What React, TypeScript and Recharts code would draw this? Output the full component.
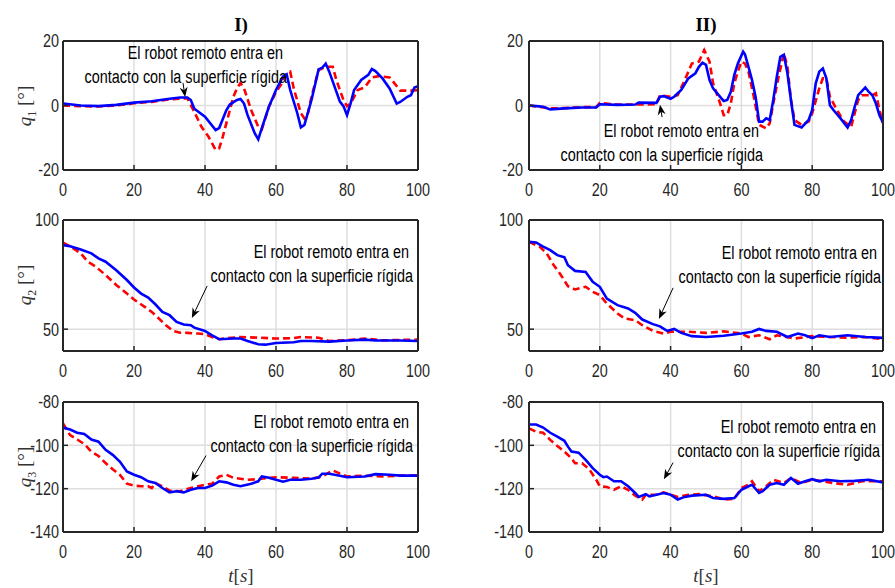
import React from 'react';
import { LineChart, Line, XAxis, YAxis, CartesianGrid, ReferenceLine } from 'recharts';

type Pt = [number, number];

const tTicks = [0, 20, 40, 60, 80, 100];
const q1Ticks = [-20, 0, 20];
const q2Ticks = [50, 100];
const q3Ticks = [-140, -120, -100, -80];

const noteLines = ['El robot remoto entra en ', 'contacto con la superficie rígida'];
const titles = ['I)', 'II)'];

// q1, experiment I
const q1IBlue: Pt[] = [[0, 0.6], [5, 0], [10, -0.2], [15, 0.2], [20, 0.9], [25, 1.3], [30, 2.1], [33, 2.5], [35, 2.5], [36, 1.7], [37, -1], [40, -3.5], [43, -7.6], [44, -7], [46, -1.5], [47, 0.3], [49, 1.7], [50, 2], [51, 0.6], [52, -3], [54, -8.6], [55, -10.5], [56, -7], [58, -0.4], [60, 4.8], [62, 9], [63, 9.7], [64, 4.8], [66, -2.4], [67, -6.8], [68, -6], [70, 1.7], [72, 11.2], [73, 11.7], [74, 13], [75, 10.5], [76, 7.4], [78, 1.2], [79, -0.2], [80, -3], [81, 0.6], [82, 4.8], [84, 7.9], [86, 9.5], [87, 11.3], [88, 10.7], [90, 8.4], [92, 5.3], [94, 0.6], [95, 1.1], [97, 2.7], [98, 3.2], [99, 5.6], [100, 6]];
const q1IRed: Pt[] = [[0, 0], [5, -0.2], [10, -0.3], [15, 0], [20, 0.7], [25, 1.1], [30, 1.9], [35, 2.3], [37, -2], [39, -6.6], [41, -9.7], [43, -13.8], [44, -13.3], [45, -9.7], [47, -1.4], [48, 2.7], [49, 5.3], [50, 7], [51, 5.3], [53, -1.4], [55, -6.6], [56, -7.4], [58, -0.4], [60, 4.2], [62, 7.4], [63, 10], [64, 10.5], [65, 5.3], [67, -2.4], [68, -4], [69, -2.4], [70, 2.7], [72, 11], [74, 12], [76, 12], [77, 7.9], [79, 1.7], [80, -0.2], [81, 0.6], [83, 4.8], [85, 5.6], [87, 8.7], [89, 9.1], [92, 8.7], [93, 7.4], [95, 4.6], [98, 4.6], [100, 4.8]];

// q1, experiment II
const q1IIBlue: Pt[] = [[0, 0], [2, -0.2], [4, -0.4], [6, -1.2], [10, -0.9], [15, -0.6], [19, -0.6], [20, 0.4], [25, 0.2], [30, 0.3], [31, 0.9], [36, 0.8], [37, 2.7], [38, 2.9], [40, 2.1], [41, 2.7], [43, 4.8], [45, 8.4], [47, 10], [48, 12], [49, 13.3], [50, 12.6], [51, 7.9], [52, 5.3], [54, 2.7], [55, 1.4], [56, 1.7], [57, 4.2], [58, 9.5], [59, 13], [60.5, 16.7], [61, 15.9], [62, 12], [63, 7.9], [64, 2.7], [65, -5], [66, -5], [67, -4], [68, -4.5], [69, 1.7], [70, 8.9], [71, 15.1], [72, 15.7], [73, 10], [74, 1.7], [75, -6], [77, -6.8], [79, -4.5], [80, -1.4], [81, 6.9], [82, 10.5], [83, 11.5], [84, 8.4], [85, 0.1], [86, -1.4], [88, -4], [90, -6.8], [91, -4.5], [92, -0.4], [93, 3.2], [95, 5.6], [96, 4.2], [97, 3.2], [98, 0.6], [99, -3], [100, -5.3]];
const q1IIRed: Pt[] = [[0, 0], [6, -0.9], [10, -0.8], [15, -0.5], [19, -0.5], [20, 0.8], [25, 0.3], [30, 0.3], [36, 0.4], [37, 3.2], [40, 2.7], [42, 3.2], [44, 7.9], [46, 13], [48, 13.6], [49.5, 17.2], [51, 13.6], [52, 6.9], [54, 0.6], [55, -3], [56, -3], [57, 0.6], [58, 6.9], [59, 10.5], [60, 13.6], [61, 13], [62, 10.5], [63.5, 2.7], [65, -6], [67, -7.1], [68, -5.5], [69, 0.6], [70.5, 8.9], [72, 16.2], [73, 12], [74, 1.7], [75, -4.5], [77, -6], [79, -5], [80, -2.4], [82, 5.3], [83, 8.4], [84, 8.4], [85, 2.7], [87, -1.4], [89, -5], [91, -6.6], [92, -2.4], [93, 1.7], [94, 3.2], [97, 3.2], [98, 3.8], [99, -1.4], [100, -5.5]];

// q2
const q2IBlue: Pt[] = [[0, 88.5], [2, 88], [5, 86.5], [8, 84.7], [10, 82.4], [12, 80.9], [15, 77], [18, 72.5], [20, 69.1], [22, 66.3], [24, 64.5], [26, 61.4], [28, 57.9], [30, 56.4], [32, 53.3], [34, 52.1], [36, 51.8], [37, 50.7], [40, 49.2], [42, 47.2], [44, 45.4], [48, 45.7], [50, 45.7], [52, 44.6], [55, 43.1], [57, 42.9], [60, 43.7], [65, 44], [67, 44.6], [70, 44.6], [75, 44.3], [80, 44.8], [85, 45.2], [88, 44.8], [95, 44.8], [100, 44.6]];
const q2IRed: Pt[] = [[0, 89.6], [2, 88], [5, 84.7], [7, 80.9], [9, 78.9], [12, 74.8], [15, 70.2], [18, 66.3], [20, 63.6], [23, 60.2], [25, 57.9], [27, 54.9], [29, 51.8], [31, 49.2], [33, 48.4], [35, 48.3], [38, 48], [40, 47.7], [42, 46.4], [44, 45.4], [46, 45.9], [50, 46.4], [55, 46.1], [60, 45.7], [65, 45.9], [67, 46.4], [72, 46.1], [75, 44.6], [80, 44.9], [85, 45.7], [90, 44.9], [100, 45.2]];
const q2IIBlue: Pt[] = [[0, 90], [2, 89.7], [4, 87.8], [6, 86.2], [8, 83.9], [10, 82.9], [11, 79.3], [13, 76.7], [16, 76.2], [18, 71.7], [20, 69.4], [22, 64], [25, 61], [28, 59.5], [30, 57.5], [32, 54.4], [35, 52.3], [37, 51.3], [39, 49.2], [41, 50.1], [43, 48.3], [46, 46.8], [50, 46.4], [55, 47], [60, 48], [63, 48.8], [65, 50.1], [67, 49.2], [70, 48.8], [73, 46.4], [76, 48], [78, 47.2], [80, 45.9], [82, 47.2], [85, 46.4], [90, 47.2], [95, 46.4], [100, 46]];
const q2IIRed: Pt[] = [[0, 90], [3, 87.8], [5, 84.7], [7, 79.3], [9, 74.8], [11, 69.7], [13, 68.2], [16, 69.4], [18, 67.1], [20, 65.6], [22, 61.7], [25, 57.2], [27, 54.9], [30, 54.1], [32, 51.8], [35, 49.2], [38, 48], [40, 48.8], [45, 48.8], [50, 48.3], [55, 49], [60, 48], [62, 46.4], [65, 47.2], [68, 45.4], [70, 47.2], [75, 45.7], [80, 46.8], [85, 46.4], [90, 46.1], [95, 46.4], [100, 45.4]];

// q3
const q3IBlue: Pt[] = [[0, -91.8], [2, -92.7], [4, -94.2], [6, -94.8], [8, -97.3], [10, -98.3], [12, -102.1], [14, -104.4], [16, -107.5], [18, -112.1], [20, -113.6], [22, -114.7], [24, -116.6], [26, -117.4], [28, -119.7], [30, -121.7], [32, -121.2], [34, -121.7], [36, -120.5], [38, -119.7], [40, -119.7], [42, -118.6], [44, -116.6], [46, -117.1], [48, -118.2], [50, -118.9], [53, -117.7], [55, -116.6], [56, -114.4], [58, -115], [60, -115.9], [62, -116.8], [64, -115.9], [67, -115.9], [70, -115.4], [72, -114.9], [73, -113.1], [75, -113.1], [78, -114], [80, -114.7], [85, -114.4], [88, -113.3], [92, -113.6], [95, -114], [100, -114]];
const q3IRed: Pt[] = [[0, -89.9], [2, -95.3], [4, -97.3], [6, -99.4], [8, -102.9], [10, -104.9], [12, -108.2], [14, -111], [16, -113.6], [18, -117.7], [20, -118.6], [22, -118.9], [24, -118.9], [25, -119.7], [26, -117.4], [28, -118.9], [30, -120.9], [33, -121.2], [36, -119.7], [40, -118.2], [42, -117.7], [44, -114.4], [46, -113.6], [48, -115], [52, -115.9], [55, -115.6], [60, -114.7], [65, -115], [70, -115.4], [73, -114.4], [76, -111.6], [80, -114.4], [85, -114], [90, -114.4], [95, -114], [100, -114]];
const q3IIBlue: Pt[] = [[0, -90.4], [2, -90.4], [4, -91.8], [6, -94.2], [8, -96], [10, -97.9], [11, -100.6], [12, -102.9], [14, -103.4], [16, -106.7], [18, -110.5], [20, -113.6], [21, -114.7], [22, -114.4], [24, -116.6], [26, -116.6], [28, -118.9], [30, -122], [31, -123.8], [33, -122.5], [34, -123.5], [36, -122.8], [38, -122], [40, -122.8], [42, -125], [44, -123.8], [46, -123.2], [50, -122.8], [52, -124.3], [55, -124.7], [58, -124.3], [60, -120.5], [62, -118.9], [63, -118.2], [65, -122], [66, -121.2], [68, -118.2], [70, -117.4], [72, -118.2], [74, -115.1], [76, -117.7], [78, -116.6], [80, -115.6], [82, -116.6], [84, -115.9], [88, -116.6], [92, -116.4], [96, -115.9], [100, -117.1]];
const q3IIRed: Pt[] = [[0, -92.2], [2, -93.7], [4, -94.2], [6, -97.5], [8, -100.3], [10, -102.9], [12, -106], [13, -108.3], [15, -108.3], [17, -111], [19, -115.9], [20, -118.9], [22, -119.2], [24, -120.5], [26, -118.9], [28, -120.5], [30, -123.2], [32, -125], [33, -122.8], [36, -122.8], [38, -121.7], [42, -123.8], [45, -122.8], [48, -122.5], [52, -123.5], [55, -125], [58, -124.7], [60, -119.7], [62, -118.2], [63, -116.6], [65, -121.2], [67, -118.9], [69, -115.9], [72, -117.4], [74, -115.1], [77, -117.4], [80, -115.9], [83, -116.6], [86, -117.4], [90, -118.2], [94, -116.6], [100, -116.6]];

// annotation arrows: [tail, tip] in data units
const arrowQ1I: [Pt, Pt] = [[33.8, 7], [34.4, 2.6]];
const arrowQ2I: [Pt, Pt] = [[40.6, 69.8], [36.3, 55.1]];
const arrowQ3I: [Pt, Pt] = [[40.3, -104.7], [36.1, -116.6]];
const arrowQ1II: [Pt, Pt] = [[37.6, -3.6], [37, 0.2]];
const arrowQ2II: [Pt, Pt] = [[40.7, 68.9], [36.7, 54.7]];
const arrowQ3II: [Pt, Pt] = [[40.7, -108], [38.1, -115.7]];

// Helvetica-narrow look: regular sans squeezed horizontally
const SANS = "'Liberation Sans', Arial, sans-serif";
const SQUEEZE = 0.8;
const SERIF = "'Liberation Serif', 'DejaVu Serif', serif";
const INK = '#262626';

function NarrowTick(props: any) {
  const { x, y, payload, textAnchor, verticalAnchor } = props;
  const dy = verticalAnchor === 'start' ? '0.71em' : '0.355em';
  return (
    <text transform={`translate(${x},${y}) scale(${SQUEEZE},1)`} textAnchor={textAnchor} dy={dy}
      fill={INK} fontSize={18} fontFamily={SANS}>
      {payload.value}
    </text>
  );
}

function ArrowShape(props: any) {
  const { x1, y1, x2, y2 } = props;
  const dx = x2 - x1;
  const dy = y2 - y1;
  const len = Math.hypot(dx, dy) || 1;
  const ux = dx / len;
  const uy = dy / len;
  const hl = 10;
  const hw = 4;
  const bx = x2 - ux * hl;
  const by = y2 - uy * hl;
  const pts = `${x2},${y2} ${bx - uy * hw},${by + ux * hw} ${bx + ux * 3},${by + uy * 3} ${bx + uy * hw},${by - ux * hw}`;
  return (
    <g>
      <line x1={x1} y1={y1} x2={x2 - ux * 4} y2={y2 - uy * 4} stroke="#000" strokeWidth={1} />
      <polygon points={pts} fill="#000" />
    </g>
  );
}

interface PanelProps {
  x: number;
  y: number;
  w: number;
  h: number;
  domain: [number, number];
  ticks: number[];
  blue: Pt[];
  red: Pt[];
  arrow: [Pt, Pt];
  tickGap: number;
}

function Panel({ x, y, w, h, domain, ticks, blue, red, arrow, tickGap }: PanelProps) {
  const padTop = 13;
  const padLeft = 60;
  const padRight = 28;
  const blueData = blue.map(([t, v]) => ({ t, v }));
  const redData = red.map(([t, v]) => ({ t, v }));
  const frame = { stroke: INK, strokeWidth: 2 };
  const tickLn = { stroke: INK, strokeWidth: 1.5 };
  return (
    <div style={{ position: 'absolute', left: x - padLeft, top: y - padTop }}>
      <LineChart width={padLeft + w + 1 + padRight} height={padTop + h + 30}
        margin={{ top: padTop - 1, right: padRight, bottom: 0, left: 0 }}>
        <CartesianGrid stroke="#dedede" strokeWidth={1.5} />
        <XAxis dataKey="t" type="number" domain={[0, 100]} ticks={tTicks} height={30} allowDataOverflow
          tickSize={-5} tickMargin={18} tick={<NarrowTick />} axisLine={frame} tickLine={tickLn} />
        <XAxis xAxisId="top" orientation="top" type="number" domain={[0, 100]} ticks={tTicks} height={1}
          tickSize={-5} tick={{ fill: 'none', fontSize: 1 }} axisLine={frame} tickLine={tickLn} />
        <YAxis type="number" domain={domain} ticks={ticks} width={60} allowDataOverflow
          tickSize={-5} tickMargin={tickGap} tick={<NarrowTick />} axisLine={frame} tickLine={tickLn} />
        <YAxis yAxisId="right" orientation="right" type="number" domain={domain} ticks={ticks} width={1}
          tickSize={-5} tick={{ fill: 'none', fontSize: 1 }} axisLine={frame} tickLine={tickLn} />
        <Line data={redData} dataKey="v" stroke="#ff0000" strokeWidth={2.6} strokeDasharray="7 4"
          dot={false} isAnimationActive={false} />
        <Line data={blueData} dataKey="v" stroke="#0000ff" strokeWidth={2.6}
          dot={false} isAnimationActive={false} />
        <ReferenceLine segment={[{ x: arrow[0][0], y: arrow[0][1] }, { x: arrow[1][0], y: arrow[1][1] }]}
          shape={ArrowShape} />
      </LineChart>
    </div>
  );
}

function Note({ right, top }: { right: number; top: number }) {
  return (
    <div style={{
      position: 'absolute', left: right - 400, top, width: 400, textAlign: 'right',
      fontFamily: SANS, fontSize: 18, lineHeight: '24px', color: '#000', whiteSpace: 'pre',
      transform: `scaleX(${SQUEEZE})`, transformOrigin: '100% 50%',
    }}>
      {noteLines[0]}
      <br />
      {noteLines[1]}
    </div>
  );
}

function YLabel({ cx, cy, sub }: { cx: number; cy: number; sub: string }) {
  return (
    <div style={{
      position: 'absolute', left: cx - 40, top: cy - 12, width: 80, height: 24,
      transform: 'rotate(-90deg)', textAlign: 'center', fontFamily: SERIF, fontSize: 19,
      lineHeight: '24px', color: '#333', whiteSpace: 'nowrap',
    }}>
      <i>q</i><sub style={{ fontSize: 12, lineHeight: 0 }}>{sub}</sub> [°]
    </div>
  );
}

function Centered({ cx, cy, children, style }: { cx: number; cy: number; children: React.ReactNode; style?: React.CSSProperties }) {
  return (
    <div style={{
      position: 'absolute', left: cx - 50, top: cy - 12, width: 100, height: 24, lineHeight: '24px',
      textAlign: 'center', fontFamily: SERIF, fontSize: 19, color: '#000', ...style,
    }}>
      {children}
    </div>
  );
}

export default function App() {
  const colX = [63, 529];
  const colW = [355, 354];
  const rowY = [41, 220, 402];
  const rowH = [129, 131, 130];
  return (
    <div style={{ position: 'absolute', left: 0, top: 0, width: 895, height: 588, background: '#fff', overflow: 'hidden' }}>
      <Panel x={colX[0]} y={rowY[0]} w={colW[0]} h={rowH[0]} domain={[-20, 20]} ticks={q1Ticks} blue={q1IBlue} red={q1IRed} arrow={arrowQ1I} tickGap={9} />
      <Panel x={colX[1]} y={rowY[0]} w={colW[1]} h={rowH[0]} domain={[-20, 20]} ticks={q1Ticks} blue={q1IIBlue} red={q1IIRed} arrow={arrowQ1II} tickGap={11} />
      <Panel x={colX[0]} y={rowY[1]} w={colW[0]} h={rowH[1]} domain={[40, 100]} ticks={q2Ticks} blue={q2IBlue} red={q2IRed} arrow={arrowQ2I} tickGap={9} />
      <Panel x={colX[1]} y={rowY[1]} w={colW[1]} h={rowH[1]} domain={[40, 100]} ticks={q2Ticks} blue={q2IIBlue} red={q2IIRed} arrow={arrowQ2II} tickGap={11} />
      <Panel x={colX[0]} y={rowY[2]} w={colW[0]} h={rowH[2]} domain={[-140, -80]} ticks={q3Ticks} blue={q3IBlue} red={q3IRed} arrow={arrowQ3I} tickGap={9} />
      <Panel x={colX[1]} y={rowY[2]} w={colW[1]} h={rowH[2]} domain={[-140, -80]} ticks={q3Ticks} blue={q3IIBlue} red={q3IIRed} arrow={arrowQ3II} tickGap={11} />

      <Note right={287} top={53 - 12} />
      <Note right={763} top={131 - 12} />
      <Note right={413} top={252 - 12} />
      <Note right={881} top={253 - 12} />
      <Note right={413} top={422 - 12} />
      <Note right={880} top={427 - 12} />

      <Centered cx={241} cy={25} style={{ fontWeight: 'bold' }}>{titles[0]}</Centered>
      <Centered cx={706} cy={25} style={{ fontWeight: 'bold' }}>{titles[1]}</Centered>

      <YLabel cx={25} cy={106} sub="1" />
      <YLabel cx={25} cy={285} sub="2" />
      <YLabel cx={25} cy={467} sub="3" />

      <Centered cx={241} cy={576} style={{ color: '#333' }}><i>t</i>[<i>s</i>]</Centered>
      <Centered cx={706} cy={576} style={{ color: '#333' }}><i>t</i>[<i>s</i>]</Centered>
    </div>
  );
}
